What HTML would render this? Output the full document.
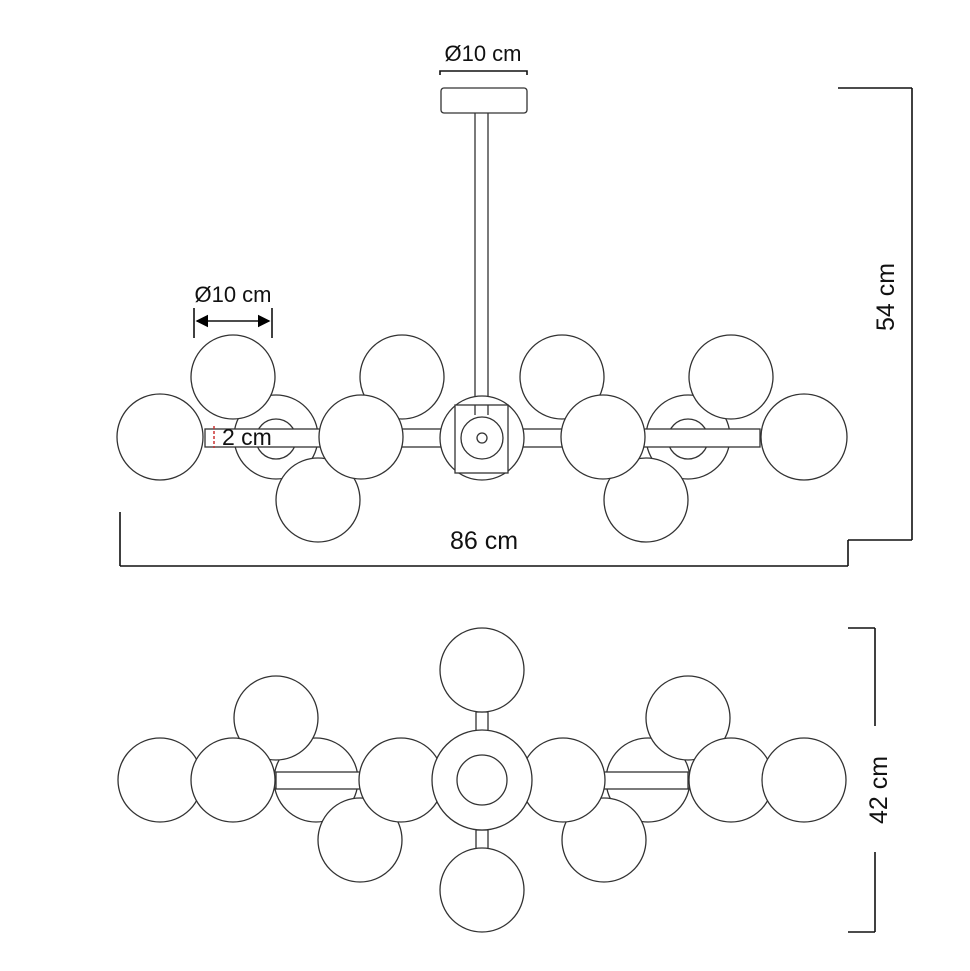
<!DOCTYPE html>
<html><head><style>html,body{margin:0;padding:0;background:#fff}svg{display:block}</style></head><body>
<svg width="970" height="971" viewBox="0 0 970 971" xmlns="http://www.w3.org/2000/svg" font-family="Liberation Sans, sans-serif">
<defs>
<marker id="ar" markerWidth="8" markerHeight="8" refX="7" refY="4" orient="auto-start-reverse"><path d="M0,0 L8,4 L0,8 z" fill="#000"/></marker>
</defs>
<g fill="#fff" stroke="#333" stroke-width="1.3">
<line x1="475" y1="113" x2="475" y2="405"/><line x1="488" y1="113" x2="488" y2="405"/>
<rect x="441" y="88" width="86" height="25" rx="3"/>
<circle cx="276" cy="437" r="42"/><circle cx="276" cy="439" r="20"/>
<circle cx="688" cy="437" r="42"/><circle cx="688" cy="439" r="20"/>
<rect x="205" y="429" width="555" height="18"/>
<circle cx="233" cy="377" r="42"/><circle cx="402" cy="377" r="42"/>
<circle cx="562" cy="377" r="42"/><circle cx="731" cy="377" r="42"/>
<circle cx="318" cy="500" r="42"/><circle cx="646" cy="500" r="42"/>
<circle cx="160" cy="437" r="43"/><circle cx="361" cy="437" r="42"/>
<circle cx="603" cy="437" r="42"/><circle cx="804" cy="437" r="43"/>
<circle cx="482" cy="438" r="42"/>
<rect x="455" y="405" width="53" height="68"/>
<line x1="475" y1="405" x2="475" y2="415"/><line x1="488" y1="405" x2="488" y2="415"/>
<circle cx="482" cy="438" r="21"/><circle cx="482" cy="438" r="5"/>
<circle cx="316" cy="780" r="42"/><circle cx="648" cy="780" r="42"/>
<rect x="276" y="772" width="86" height="17"/><rect x="602" y="772" width="86" height="17"/>
<circle cx="276" cy="718" r="42"/><circle cx="688" cy="718" r="42"/>
<circle cx="360" cy="840" r="42"/><circle cx="604" cy="840" r="42"/>
<circle cx="160" cy="780" r="42"/><circle cx="233" cy="780" r="42"/>
<circle cx="731" cy="780" r="42"/><circle cx="804" cy="780" r="42"/>
<circle cx="401" cy="780" r="42"/><circle cx="563" cy="780" r="42"/>
<rect x="476" y="712" width="12" height="20"/><rect x="476" y="830" width="12" height="20"/>
<circle cx="482" cy="670" r="42"/><circle cx="482" cy="890" r="42"/>
<circle cx="482" cy="780" r="50"/><circle cx="482" cy="780" r="25"/>
</g>
<g stroke="#111" stroke-width="1.6" fill="none">
<line x1="838" y1="88" x2="912" y2="88"/><line x1="912" y1="88" x2="912" y2="540"/><line x1="912" y1="540" x2="848" y2="540"/>
<line x1="848" y1="540" x2="848" y2="566"/><line x1="120" y1="566" x2="848" y2="566"/><line x1="120" y1="512" x2="120" y2="566"/>
<line x1="848" y1="628" x2="875" y2="628"/><line x1="875" y1="628" x2="875" y2="726"/>
<line x1="875" y1="852" x2="875" y2="932"/><line x1="848" y1="932" x2="875" y2="932"/>
<line x1="194" y1="308" x2="194" y2="338"/><line x1="272" y1="308" x2="272" y2="338"/>
<line x1="197" y1="321" x2="269" y2="321" marker-start="url(#ar)" marker-end="url(#ar)"/>
<path d="M440,75 v-4 h87 v4"/>
</g>
<line x1="214" y1="426" x2="214" y2="448" stroke="#c33" stroke-width="1.5" stroke-dasharray="3,2"/>
<g font-size="22" fill="#111">
<text x="483" y="61" text-anchor="middle">Ø10 cm</text>
<text x="233" y="302" text-anchor="middle">Ø10 cm</text>
<text x="222" y="445" font-size="23">2 cm</text>
<text x="484" y="549" text-anchor="middle" font-size="25">86 cm</text>
<text transform="translate(894,297) rotate(-90)" text-anchor="middle" font-size="25">54 cm</text>
<text transform="translate(887,790) rotate(-90)" text-anchor="middle" font-size="25">42 cm</text>
</g>
</svg>
</body></html>
